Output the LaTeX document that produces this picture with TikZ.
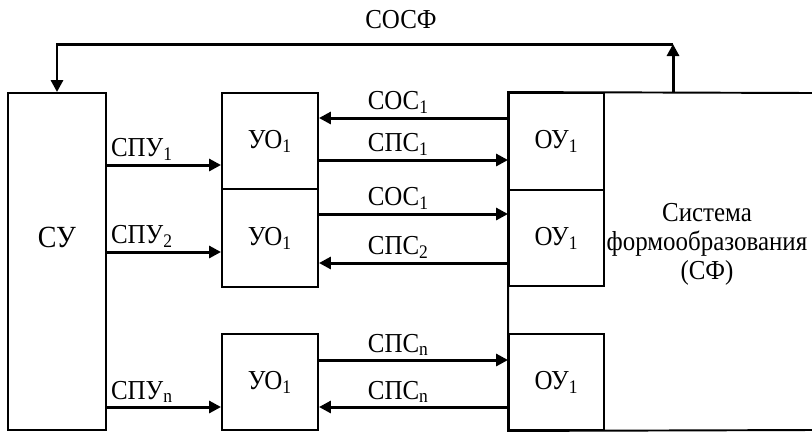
\documentclass[tikz,border=0pt]{standalone}
\usepackage{fontspec}
\setmainfont{Liberation Serif}[FakeStretch=0.91]
\usetikzlibrary{arrows.meta,positioning}

\begin{document}
\begin{tikzpicture}[x=0.2mm,y=-0.2mm,
    every node/.style={font=\fontsize{15.6}{16.5}\selectfont},
    blk/.style={draw,rectangle,line width=1.1pt,inner sep=0pt},
    sig/.style={line width=1.7pt,-{Triangle[length=2.4mm,width=2.4mm]}},
    lbl/.style={inner sep=1.5pt}]
    \useasboundingbox (0,0) rectangle (812,433);
    \node[blk,minimum width=19.6mm,minimum height=67.4mm] (cu) at (57,261.5) {};
    \node[font=\fontsize{17.5}{18}\selectfont] (cutxt) at (57,237) {СУ};
    \node[blk,minimum width=19.2mm,minimum height=19.2mm] (uo1) at (270,141) {УО\textsubscript{1}};
    \node[blk,minimum width=19.2mm,minimum height=19.6mm] (uo2) at (270,238) {УО\textsubscript{1}};
    \node[blk,minimum width=19.2mm,minimum height=19.2mm] (uo3) at (270,382) {УО\textsubscript{1}};
    \node[blk,minimum width=19mm,minimum height=19.4mm] (ou1) at (556.5,141.5) {ОУ\textsubscript{1}};
    \node[blk,minimum width=19mm,minimum height=19.2mm] (ou2) at (556.5,238) {ОУ\textsubscript{1}};
    \node[blk,minimum width=19mm,minimum height=19.2mm] (ou3) at (556.5,382) {ОУ\textsubscript{1}};
    \node[align=center] (sf) at (707,244) {Система\\формообразования\\(СФ)};
    % outline of the forming system, open on the right
    \draw[line width=1.1pt] (812,93) -- (ou1.north west) -- (ou3.south west) -- (812,430);
    % feedback from SF
    \coordinate (fbs) at (673,93);
    \coordinate (fbt) at (673,44);
    \draw[sig] (fbs) -- (fbt);
    \draw[sig] (fbt) -| (cu.north);
    \node (cosf) at (401,20) {СОСФ};
    % control signals
    \coordinate (a1) at (0,165);
    \coordinate (a2) at (0,252);
    \coordinate (a3) at (0,407);
    \draw[sig] (cu.east |- a1) -- (uo1.west |- a1) node[pos=0,above right,lbl] {СПУ\textsubscript{1}};
    \draw[sig] (cu.east |- a2) -- (uo2.west |- a2) node[pos=0,above right,lbl] {СПУ\textsubscript{2}};
    \draw[sig] (cu.east |- a3) -- (uo3.west |- a3) node[pos=0,above right,lbl] {СПУ\textsubscript{n}};
    % signals between UO and OU
    \coordinate (b1) at (0,118);
    \coordinate (b2) at (0,160);
    \coordinate (b3) at (0,214);
    \coordinate (b4) at (0,263);
    \coordinate (b5) at (0,360);
    \coordinate (b6) at (0,407);
    \draw[sig] (ou1.west |- b1) -- (uo1.east |- b1) node[pos=0.58,above,lbl] {СОС\textsubscript{1}};
    \draw[sig] (uo1.east |- b2) -- (ou1.west |- b2) node[pos=0.42,above,lbl] {СПС\textsubscript{1}};
    \draw[sig] (uo2.east |- b3) -- (ou2.west |- b3) node[pos=0.42,above,lbl] {СОС\textsubscript{1}};
    \draw[sig] (ou2.west |- b4) -- (uo2.east |- b4) node[pos=0.58,above,lbl] {СПС\textsubscript{2}};
    \draw[sig] (uo3.east |- b5) -- (ou3.west |- b5) node[pos=0.42,above,lbl] {СПС\textsubscript{n}};
    \draw[sig] (ou3.west |- b6) -- (uo3.east |- b6) node[pos=0.58,above,lbl] {СПС\textsubscript{n}};
\end{tikzpicture}
\end{document}
